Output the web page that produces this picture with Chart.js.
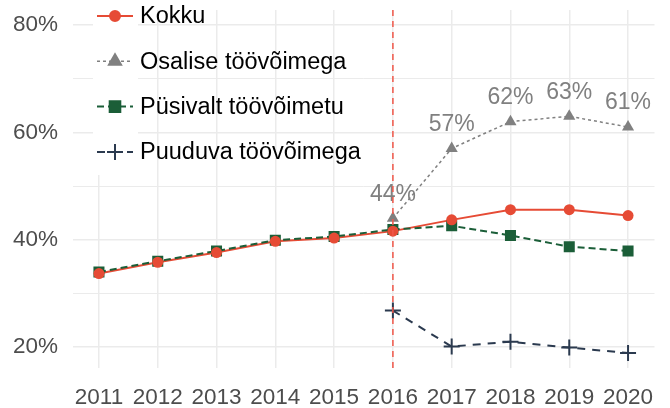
<!DOCTYPE html>
<html lang="et">
<head>
<meta charset="UTF-8" />
<title>Töövõime</title>
<script src="https://cdn.jsdelivr.net/npm/chart.js@4.4.1/dist/chart.umd.min.js"></script>
<style>
  body { margin: 0; background: #fff; }
</style>
</head>
<body>
<canvas id="myChart" width="670" height="408"></canvas>
<script>
// data (percent)
var years = [2011, 2012, 2013, 2014, 2015, 2016, 2017, 2018, 2019, 2020];
var kokku = [33.7, 35.8, 37.6, 39.7, 40.3, 41.6, 43.7, 45.6, 45.6, 44.5];
var osalise = [null, null, null, null, null, 44, 57, 62, 63, 61];
var pusivalt = [34.0, 36.0, 37.9, 39.9, 40.6, 41.9, 42.6, 40.8, 38.7, 37.9];
var puuduva = [null, null, null, null, null, 26.8, 20.1, 21.0, 19.9, 18.9];
var yTicks = [20, 30, 40, 50, 60, 70, 80];
var markYear = 2016;

var seriesNames = ["Kokku", "Osalise töövõimega", "Püsivalt töövõimetu", "Puuduva töövõimega"];

var red = "#e64b35";
var grey = "#808080";
var green = "#1b5e38";
var navy = "#2b3a4f";

function pts(arr) {
  return years.map(function (y, i) { return { x: y, y: arr[i] }; });
}

var FONT = "'Liberation Sans', Arial, sans-serif";

// legend keys (line style + marker) for the custom legend
var legendKeys = [
  { label: seriesNames[0], color: red, dash: [], width: 2, style: "circle", r: 5 },
  { label: seriesNames[1], color: grey, dash: [3, 3], width: 1.5, style: "triangle", r: 7 },
  { label: seriesNames[2], color: green, dash: [7, 4], width: 2, style: "rect", r: 7.5 },
  { label: seriesNames[3], color: navy, dash: [8, 7], width: 2, style: "cross", r: 8 }
];

var markLine = {
  id: "markLine",
  afterDatasetsDraw: function (chart) {
    var ctx = chart.ctx, area = chart.chartArea;
    var x = chart.scales.x.getPixelForValue(markYear);
    ctx.save();
    ctx.strokeStyle = "#f0584a";
    ctx.lineWidth = 1.5;
    ctx.setLineDash([6, 5]);
    ctx.beginPath();
    ctx.moveTo(x, area.top);
    ctx.lineTo(x, area.bottom);
    ctx.stroke();
    ctx.restore();
  }
};

var valueLabels = {
  id: "valueLabels",
  afterDatasetsDraw: function (chart) {
    var ctx = chart.ctx;
    var meta = chart.getDatasetMeta(2);
    ctx.save();
    ctx.font = "23px " + FONT;
    ctx.fillStyle = grey;
    ctx.textAlign = "center";
    ctx.textBaseline = "middle";
    meta.data.forEach(function (el, i) {
      if (osalise[i] == null) return;
      ctx.fillText(Math.round(osalise[i]) + "%", el.x, el.y - 24);
    });
    ctx.restore();
  }
};

var keyLegend = {
  id: "keyLegend",
  afterDraw: function (chart) {
    var ctx = chart.ctx;
    ctx.save();
    ctx.fillStyle = "#fff";
    ctx.fillRect(93, 0, 45, 175);
    legendKeys.forEach(function (k, i) {
      var cy = 16 + i * 45.3;
      ctx.strokeStyle = k.color;
      ctx.lineWidth = k.width;
      ctx.setLineDash(k.dash);
      ctx.beginPath();
      ctx.moveTo(97, cy);
      ctx.lineTo(133, cy);
      ctx.stroke();
      ctx.setLineDash([]);
      ctx.fillStyle = k.color;
      ctx.lineWidth = 2;
      Chart.helpers.drawPoint(ctx, { pointStyle: k.style, radius: k.r, rotation: 0, borderWidth: 2 }, 115, cy);
      if (k.style !== "cross") ctx.fill();
      ctx.fillStyle = "#000";
      ctx.font = "23.5px " + FONT;
      ctx.textAlign = "left";
      ctx.textBaseline = "middle";
      ctx.fillText(k.label, 140, cy + 1);
    });
    ctx.restore();
  }
};

function lineSet(label, arr, color, dash, width, style, r, order, showPts, showLine) {
  return {
    label: label,
    data: pts(arr),
    borderColor: color,
    backgroundColor: color,
    borderDash: dash,
    borderWidth: width,
    pointStyle: style,
    pointRadius: showPts ? r : 0,
    pointBorderWidth: style === "cross" ? 2 : 0,
    pointBorderColor: color,
    showLine: showLine,
    spanGaps: false,
    order: order
  };
}

var ctx = document.getElementById("myChart").getContext("2d");
var myChart = new Chart(ctx, {
  type: "line",
  data: {
    datasets: [
      lineSet(seriesNames[0], kokku, red, [], 2, "circle", 5.5, 1, true, false),
      lineSet(seriesNames[2], pusivalt, green, [7, 4], 2, "rect", 7.8, 2, true, true),
      lineSet(seriesNames[1], osalise, grey, [3, 3], 1.5, "triangle", 7, 3, true, true),
      lineSet(seriesNames[0], kokku, red, [], 2, "circle", 5.5, 4, false, true),
      lineSet(seriesNames[3], puuduva, navy, [8, 7], 2, "cross", 8, 5, true, true)
    ]
  },
  options: {
    responsive: false,
    devicePixelRatio: 1,
    animation: false,
    layout: { padding: { top: 9, right: 15.5, left: 0, bottom: 0 } },
    plugins: {
      legend: { display: false },
      tooltip: { enabled: false }
    },
    scales: {
      x: {
        type: "linear",
        min: 2010.55,
        max: 2020.45,
        afterBuildTicks: function (s) { s.ticks = years.map(function (v) { return { value: v }; }); },
        afterFit: function (s) { s.height = 40; s.paddingLeft = 0; s.paddingRight = 0; },
        grid: { color: "#ebebeb", lineWidth: 1.5, drawTicks: false },
        border: { display: false },
        ticks: {
          padding: 16,
          color: "#4d4d4d",
          font: { family: FONT, size: 22.5 },
          maxRotation: 0,
          autoSkip: false,
          callback: function (v) { return String(v); }
        }
      },
      y: {
        min: 16.1,
        max: 82.8,
        afterBuildTicks: function (s) { s.ticks = yTicks.map(function (v) { return { value: v }; }); },
        afterFit: function (s) { s.width = 72.5; s.paddingTop = 0; s.paddingBottom = 0; },
        grid: {
          color: "#ebebeb",
          lineWidth: function (c) { return c.tick && c.tick.value % 20 === 0 ? 1.5 : 1; },
          drawTicks: false
        },
        border: { display: false },
        ticks: {
          padding: 14.5,
          color: "#4d4d4d",
          font: { family: FONT, size: 22.5 },
          callback: function (v) { return v % 20 === 0 ? v + "%" : ""; }
        }
      }
    }
  },
  plugins: [valueLabels, markLine, keyLegend]
});
</script>
</body>
</html>
